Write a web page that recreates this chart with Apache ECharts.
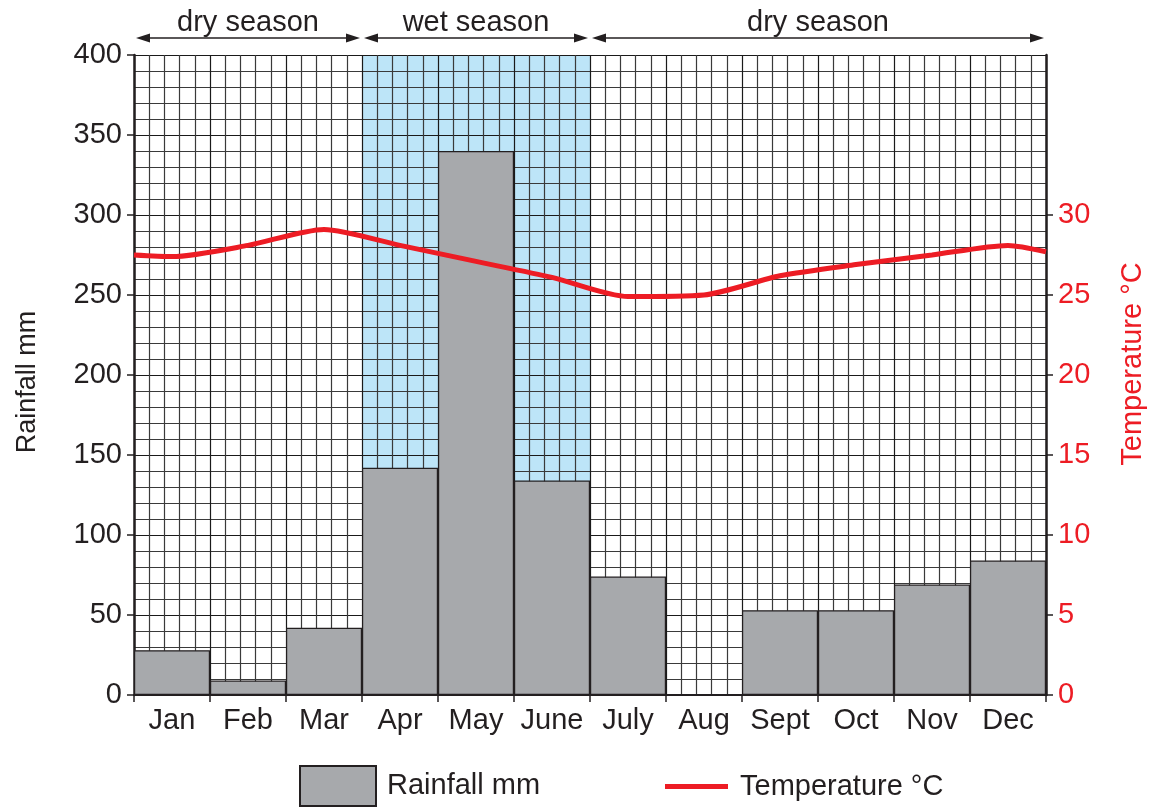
<!DOCTYPE html>
<html>
<head>
<meta charset="utf-8">
<script src="https://cdn.jsdelivr.net/npm/echarts@6/dist/echarts.min.js"></script>
<style>
  html, body { margin: 0; padding: 0; background: #fff; }
  #chart { width: 1155px; height: 807px; }
</style>
</head>
<body>
<div id="chart"></div>
<script>
// data
var months = ['Jan', 'Feb', 'Mar', 'Apr', 'May', 'June', 'July', 'Aug', 'Sept', 'Oct', 'Nov', 'Dec'];
var rainfall = [28, 9, 42, 142, 340, 134, 74, 0, 53, 53, 69, 84];
var temperature = [27.4, 28.1, 29.1, 28.1, 27.1, 26.1, 24.9, 25.0, 26.2, 26.9, 27.5, 28.1];
var tempStart = 27.5; // value at left edge of plot
var tempEnd = 27.7;   // value at right edge of plot
var seasons = [
  { name: 'dry season', from: 0, to: 3 },
  { name: 'wet season', from: 3, to: 6 },
  { name: 'dry season', from: 6, to: 12 }
];
var rightTicks = [0, 5, 10, 15, 20, 25, 30];

var font = 'Liberation Sans, Arial, sans-serif';
var ink = '#231f20';
var red = '#ed1c24';
var fs = 29;

// temperature points sit in the middle of each month
var tempPoints = [[0, tempStart]];
temperature.forEach(function (t, i) { tempPoints.push([i + 0.5, t]); });
tempPoints.push([months.length, tempEnd]);

var chart = echarts.init(document.getElementById('chart'));

var option = {
  animation: false,
  grid: { left: 134, right: 108, top: 55, bottom: 112 },
  xAxis: [
    {
      type: 'category',
      data: months,
      axisLine: { lineStyle: { color: ink, width: 2 } },
      axisTick: { show: true, length: 7, lineStyle: { color: ink, width: 1.5 } },
      axisLabel: { color: ink, fontFamily: font, fontSize: fs, margin: 11, interval: 0 },
      splitLine: { show: false }
    },
    {
      type: 'value',
      min: 0,
      max: months.length,
      interval: 1,
      position: 'bottom',
      axisLine: { show: false },
      axisTick: { show: false },
      axisLabel: { show: false },
      splitLine: { show: true, lineStyle: { color: '#1a1a1a', width: 1.2 } },
      minorTick: { show: false, splitNumber: 5 },
      minorSplitLine: { show: true, lineStyle: { color: '#3a3a3a', width: 1.2 } }
    }
  ],
  yAxis: [
    {
      type: 'value',
      min: 0,
      max: 400,
      interval: 50,
      name: 'Rainfall mm',
      nameLocation: 'middle',
      nameGap: 93,
      nameTextStyle: { color: ink, fontFamily: font, fontSize: 27, padding: [0, 14, 0, 0] },
      axisLine: { show: true, lineStyle: { color: ink, width: 2.5 } },
      axisTick: { show: true, length: 7, lineStyle: { color: ink, width: 1.5 } },
      axisLabel: { color: ink, fontFamily: font, fontSize: fs, margin: 12 },
      splitLine: { show: true, lineStyle: { color: '#1a1a1a', width: 1.2 } },
      minorTick: { show: false, splitNumber: 5 },
      minorSplitLine: { show: true, lineStyle: { color: '#3a3a3a', width: 1.2 } }
    },
    {
      type: 'value',
      min: 0,
      max: 40,
      interval: 5,
      position: 'right',
      name: 'Temperature °C',
      nameLocation: 'middle',
      nameGap: 72,
      nameRotate: 90,
      nameTextStyle: { color: red, fontFamily: font, fontSize: fs, padding: [0, 0, 0, 22] },
      axisLine: { show: true, lineStyle: { color: ink, width: 2.5 } },
      axisTick: { show: true, length: 7, customValues: rightTicks, lineStyle: { color: ink, width: 1.5 } },
      axisLabel: {
        color: red, fontFamily: font, fontSize: fs, margin: 12,
        customValues: rightTicks
      },
      splitLine: { show: false }
    }
  ],
  legend: [
    {
      data: [{ name: 'Rainfall mm', icon: 'rect' }],
      left: 299,
      top: 765,
      padding: 0,
      itemWidth: 76,
      itemHeight: 40,
      itemGap: 10,
      textStyle: { color: ink, fontFamily: font, fontSize: fs, padding: [0, 0, 0, 6] },
      selectedMode: false
    },
    {
      data: [{ name: 'Temperature °C', icon: 'rect', itemStyle: { color: red, borderWidth: 0 } }],
      left: 665,
      top: 772,
      padding: 0,
      itemWidth: 63,
      itemHeight: 5,
      itemGap: 12,
      textStyle: { color: ink, fontFamily: font, fontSize: fs, padding: [0, 0, 0, 7] },
      selectedMode: false
    }
  ],
  series: [
    {
      name: 'wet',
      type: 'line',
      xAxisIndex: 1,
      yAxisIndex: 0,
      data: [],
      z: -1,
      silent: true,
      markArea: {
        z: -1,
        silent: true,
        itemStyle: { color: '#bde5f8' },
        data: [[{ xAxis: seasons[1].from, yAxis: 0 }, { xAxis: seasons[1].to, yAxis: 400 }]]
      }
    },
    {
      name: 'Rainfall mm',
      type: 'bar',
      data: rainfall,
      barCategoryGap: 0,
      itemStyle: { color: '#a7a9ac', borderColor: ink, borderWidth: 1.2 }
    },
    {
      name: 'Temperature °C',
      type: 'line',
      xAxisIndex: 1,
      yAxisIndex: 1,
      data: tempPoints,
      smooth: 0.25,
      symbol: 'none',
      lineStyle: { color: red, width: 5 },
      itemStyle: { color: red }
    }
  ]
};

chart.setOption(option);

// season arrows above the plot, positioned through the axis scale
var plotTop = chart.convertToPixel({ yAxisIndex: 0 }, 400);
var arrowY = plotTop - 17;
var graphics = [];
seasons.forEach(function (s) {
  var x1 = chart.convertToPixel({ xAxisIndex: 1 }, s.from) + 2;
  var x2 = chart.convertToPixel({ xAxisIndex: 1 }, s.to) - 2;
  graphics.push({
    type: 'line',
    shape: { x1: x1 + 10, y1: arrowY, x2: x2 - 10, y2: arrowY },
    style: { stroke: ink, lineWidth: 1.5 }
  });
  graphics.push({
    type: 'polygon',
    shape: { points: [[x1, arrowY], [x1 + 14, arrowY - 4.5], [x1 + 14, arrowY + 4.5]] },
    style: { fill: ink }
  });
  graphics.push({
    type: 'polygon',
    shape: { points: [[x2, arrowY], [x2 - 14, arrowY - 4.5], [x2 - 14, arrowY + 4.5]] },
    style: { fill: ink }
  });
  graphics.push({
    type: 'text',
    x: (x1 + x2) / 2,
    y: arrowY - 1,
    style: {
      text: s.name, fill: ink, font: fs + 'px ' + font,
      textAlign: 'center', textVerticalAlign: 'bottom'
    }
  });
});
chart.setOption({ graphic: graphics });
</script>
</body>
</html>
